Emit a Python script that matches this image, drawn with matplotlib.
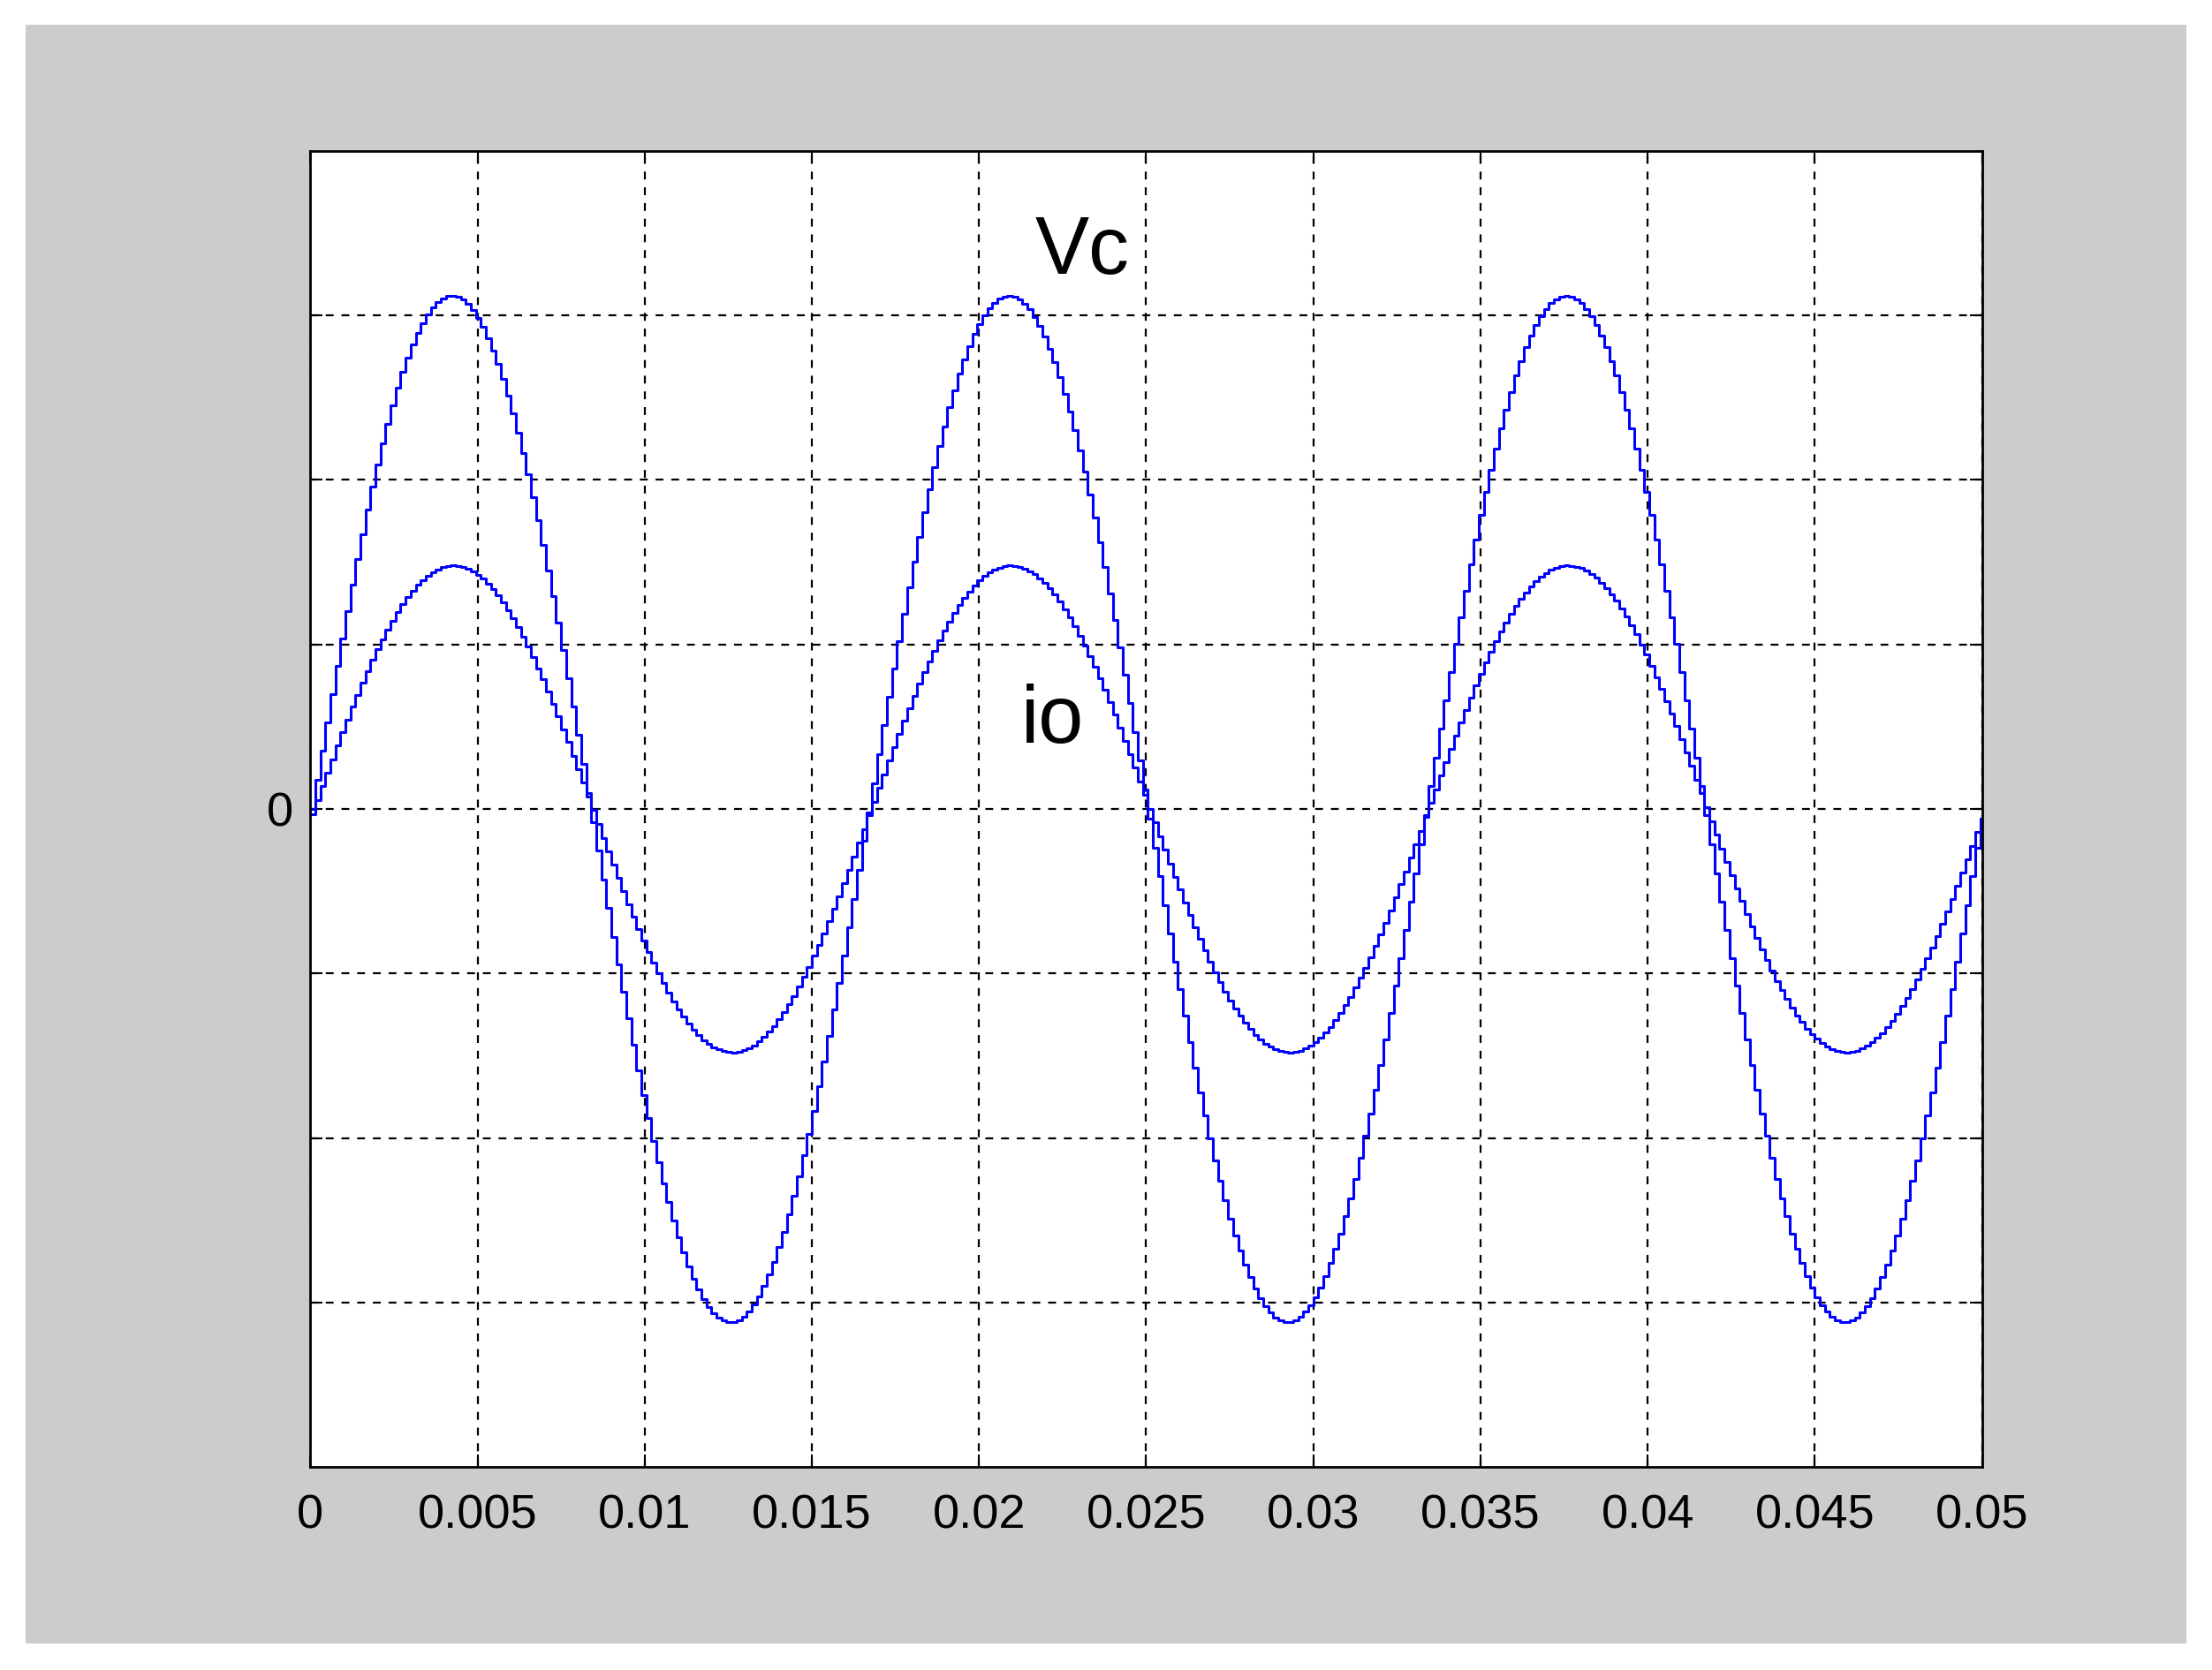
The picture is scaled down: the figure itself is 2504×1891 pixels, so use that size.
import numpy as np
import matplotlib
matplotlib.use("Agg")
import matplotlib.pyplot as plt

# values
freq = 60.0          # Hz (peaks at ~0.0042, 0.021, 0.0375 s)
vc_amp = 3.12        # grid units
io_amp = 1.48
t_end = 0.05
hold = 0.00015       # staircase sample period
xticks = [0, 0.005, 0.01, 0.015, 0.02, 0.025, 0.03, 0.035, 0.04, 0.045, 0.05]
xticklabels = ['0', '0.005', '0.01', '0.015', '0.02', '0.025', '0.03', '0.035', '0.04', '0.045', '0.05']
yticks = [-3, -2, -1, 0, 1, 2, 3]
yticklabels = ['', '', '', '0', '', '', '']

t = np.arange(0, t_end + hold, hold)
vc = vc_amp * np.sin(2 * np.pi * freq * t)
io = io_amp * np.sin(2 * np.pi * freq * t - 0.02)

fig = plt.figure(figsize=(25.04, 18.91), dpi=100, facecolor='white')
bg = fig.add_axes([0.0115, 0.016, 0.977, 0.969])
bg.set_facecolor('#cccccc'); bg.set_xticks([]); bg.set_yticks([])
for s in bg.spines.values(): s.set_visible(False)

ax = fig.add_axes([0.1403, 0.1216, 0.7557, 0.788])
ax.plot(t, vc, color='#0000ff', lw=2.2, drawstyle='steps-post')
ax.plot(t, io, color='#0000ff', lw=2.2, drawstyle='steps-post')
ax.set_xlim(0, 0.05)
ax.set_ylim(-4, 4)
ax.set_xticks(xticks)
ax.set_xticklabels(xticklabels, fontsize=39, family='Liberation Sans')
ax.set_yticks(yticks)
ax.set_yticklabels(yticklabels, fontsize=39, family='Liberation Sans')
ax.tick_params(direction='in', length=10, width=1.5)
ax.tick_params(axis='x', pad=22)
ax.tick_params(axis='y', pad=14)
ax.tick_params(top=True, right=True)
ax.grid(True, color='black', ls=(0, (4, 4)), lw=1.6)
for s in ax.spines.values(): s.set_linewidth(2); s.set_color('black')
ax.text(0.0231, 3.38, 'Vc', fontsize=66, family='Liberation Sans', ha='center', va='center')
ax.text(0.0222, 0.53, 'io', fontsize=66, family='Liberation Sans', ha='center', va='center')
fig.savefig('out.png', dpi=100, facecolor='white')
